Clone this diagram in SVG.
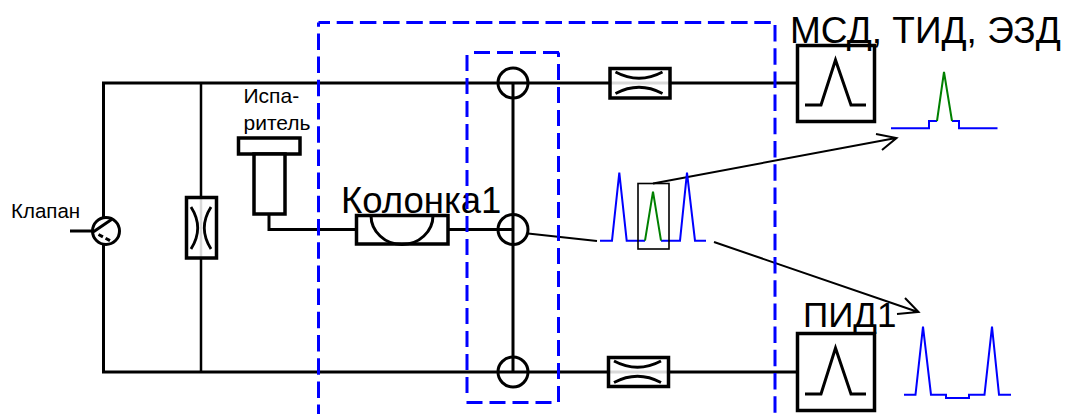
<svg xmlns="http://www.w3.org/2000/svg" width="1067" height="414" viewBox="0 0 1067 414">
<style>
text{font-family:"Liberation Sans",Arial,sans-serif;fill:#000}
.s{font-size:21px}.k{font-size:20.500px}
.p{fill:none;stroke:#000;stroke-width:3}
.b{fill:none;stroke:#000;stroke-width:3.500}
.r{fill:#fff;fill-opacity:.85;stroke:#000;stroke-width:3.500}
.w{fill:#fff;stroke:#000;stroke-width:3.500}
.a{fill:none;stroke:#000;stroke-width:2.800}
.t{fill:none;stroke:#000;stroke-width:1.600}
.n{fill:none;stroke:#000;stroke-width:2}
.d{fill:none;stroke:#0000ff;stroke-width:3;stroke-dasharray:16.500 6.700}
.i{fill:none;stroke:#0000ff;stroke-width:3;stroke-dasharray:16 7}
.bl{fill:none;stroke:#0000ff;stroke-width:2}
.gr{fill:none;stroke:#008000;stroke-width:2}
</style>
<g id="connectors">
<path class="p" d="M103.500 219V83H797M103.500 244V372H797"/>
<path class="p" style="stroke-width:2.500" d="M201 83V372"/>
<path class="p" d="M513 83V372"/>
<path class="p" d="M70 231H93"/>
<path class="p" d="M269 214V229.500H357M448 229.500H513"/>
<path class="n" d="M528 233.500L597 241"/>
<path class="n" d="M653 183.500L896 138M876 134L896.500 138L882 150"/>
<path class="n" d="M714 242L918 312M905 298L918.500 312L897 314"/>
</g>
<g id="valve"><circle class="p" cx="106" cy="231" r="13.500"/><path class="p" d="M93.500 231.700L111.500 219.500"/><path class="p" stroke-dasharray="5 3" d="M98.500 234.500L113.500 242.500"/><text class="k" x="11" y="218">Клапан</text></g>
<g id="restrictor-v"><rect class="r" x="186.500" y="197.500" width="30" height="60.500"/><path class="a" d="M191 207Q204.400 228 191 249M211 207Q197.600 228 211 249"/></g>
<g id="evaporator"><rect class="w" x="238.500" y="138" width="61.500" height="16"/><rect class="w" x="254" y="154" width="31" height="60"/><text class="s" x="243.500" y="103">Испа-</text><text class="s" x="243.500" y="130">ритель</text></g>
<g id="column"><rect class="w" x="356.500" y="215.500" width="91.500" height="28.500"/><path class="p" d="M371 215.500A31 29 0 0 0 433 215.500"/><text x="341" y="213" style="font-size:36.500px">Колонка1</text></g>
<g id="junction-top"><circle class="p" cx="513" cy="83" r="15"/></g>
<g id="junction-mid"><circle class="p" cx="513" cy="229.500" r="15"/></g>
<g id="junction-bottom"><circle class="p" cx="513" cy="372" r="15"/></g>
<g id="restrictor-top"><rect class="r" x="610" y="68.500" width="60" height="29.500"/><path class="a" d="M615.500 72Q639 84.500 662.500 72M615.500 93.500Q639 81 662.500 93.500"/></g>
<g id="restrictor-bottom"><rect class="r" x="608.500" y="357.500" width="60" height="29"/><path class="a" d="M614 361Q637.500 373.500 661 361M614 382.500Q637.500 370 661 382.500"/></g>
<g id="oven"><path class="d" stroke-dashoffset="5" d="M318.500 22.500H775"/><path class="d" stroke-dashoffset="12.300" d="M318.500 22.500V414"/><path class="d" stroke-dashoffset="20.700" d="M775 22.500V414"/></g>
<g id="switch"><path class="i" d="M474 52.500H559"/><path class="i" d="M467 393V52.500"/><path class="i" d="M558.500 402V52.500"/><path class="i" d="M466.500 402.500H558"/></g>
<g id="detector-top"><rect class="b" x="797.500" y="45.500" width="77" height="76"/><path class="p" d="M805 105H821L835.500 60L851 105H866"/><text x="790" y="43" style="font-size:37px">МСД, ТИД, ЭЗД</text></g>
<g id="detector-bottom"><rect class="b" x="797.500" y="333.500" width="77" height="77"/><path class="p" d="M805 394H821L835.500 348L851 394H866"/><text x="803" y="327" style="font-size:35px">ПИД1</text></g>
<g id="chromatogram-mid"><path class="bl" d="M600 240.700H612L619.300 172.700L626.700 240.700H645M661 240.700H680L687 172.700L695 240.700H706"/><path class="gr" d="M645 240.700L653 191.700L661 240.700"/><rect class="t" x="638" y="183.500" width="31" height="65.500"/></g>
<g id="chromatogram-top"><path class="bl" d="M891 128.300H929V121H937M952 121H959V128.300H997.500"/><path class="gr" d="M937 121L944 72L952 121"/></g>
<g id="chromatogram-bottom"><path class="bl" d="M904 394.700H915.500L923 326.700L931 394.700H946V398H969V394.700H984.500L992 326.700L999 394.700H1011"/></g>
</svg>
